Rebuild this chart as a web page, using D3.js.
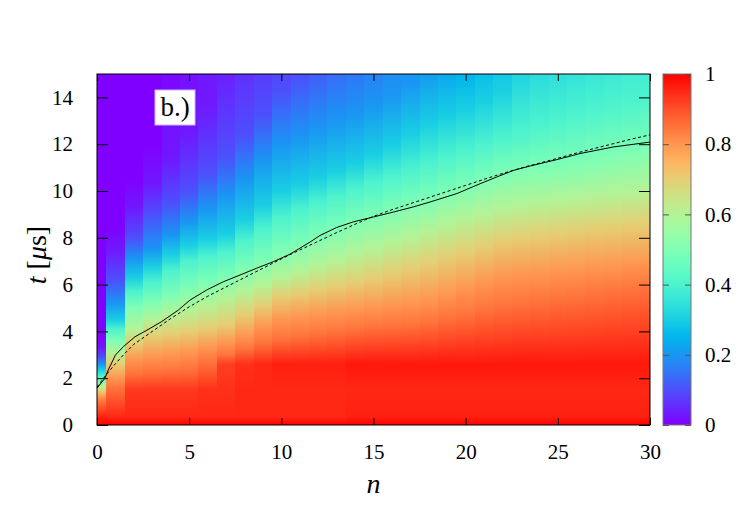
<!DOCTYPE html>
<html><head><meta charset="utf-8">
<script src="https://cdn.jsdelivr.net/npm/d3@7"></script>
<style>body{margin:0;background:#fff}</style>
</head><body>
<svg id="c" width="747" height="523"></svg>
<script>
// ---- data ----
const nValues = [0,1,2,3,4,5,6,7,8,9,10,11,12,13,14,15,16,17,18,19,20,21,22,23,24,25,26,27,28,29,30];
const xTicks = [0,5,10,15,20,25,30];
const yTicks = [0,2,4,6,8,10,12,14];
const cbTicks = [0,0.2,0.4,0.6,0.8,1];
const cbTickLabels = ["0","0.2","0.4","0.6","0.8","1"];

// value levels and, per column n, the time t [us] at which the value falls to that level (null: not within 0..15)
const levels = [0.85,0.8,0.7,0.6,0.5,0.4,0.3,0.2,0.1,0.03,0];
const crossT = [
  [1.0,1.2,1.45,1.65,1.85,2.1,2.35,2.6,2.9,3.3,3.8],
  [1.6,2.0,2.6,3.1,3.6,4.1,4.5,5.2,6.2,7.5,8.5],
  [2.2,2.8,3.5,4.1,5.0,5.7,6.3,7.1,8.0,9.3,10.5],
  [2.3,2.9,3.8,4.5,5.2,6.1,6.8,7.5,9.0,10.3,12.0],
  [2.35,3.0,3.9,4.7,5.5,6.6,7.3,8.1,9.5,11.4,null],
  [2.4,3.1,4.0,4.9,5.8,7.0,7.7,8.7,10.0,12.5,null],
  [2.7,3.3,4.15,5.15,6.05,7.2,7.95,9.25,10.75,13.7,null],
  [3.0,3.5,4.3,5.4,6.3,7.4,8.2,9.8,11.5,null,null],
  [3.25,3.8,4.7,5.7,6.7,7.9,8.8,10.5,12.4,null,null],
  [3.5,4.2,5.1,6.0,7.0,8.4,9.4,11.3,13.3,null,null],
  [3.7,4.5,5.5,6.3,7.4,8.9,10.0,12.0,14.3,null,null],
  [3.8,4.6,5.65,6.55,7.7,9.2,10.3,12.3,null,null,null],
  [3.9,4.7,5.8,6.8,8.05,9.5,10.6,12.65,null,null,null],
  [4.0,4.8,5.95,7.05,8.35,9.8,10.9,13.0,null,null,null],
  [4.1,4.9,6.1,7.3,8.7,10.1,11.2,13.3,null,null,null],
  [4.2,5.0,6.3,7.55,8.9,10.4,11.6,13.7,null,null,null],
  [4.25,5.1,6.5,7.8,9.15,10.65,12.0,14.1,null,null,null],
  [4.3,5.2,6.7,8.05,9.4,10.9,12.45,14.6,null,null,null],
  [4.4,5.3,6.9,8.3,9.6,11.2,12.9,null,null,null,null],
  [4.6,5.55,7.15,8.55,9.9,11.5,13.2,null,null,null,null],
  [4.75,5.8,7.4,8.8,10.15,11.75,13.5,null,null,null,null],
  [4.95,6.05,7.65,9.05,10.45,12.0,13.9,null,null,null,null],
  [5.1,6.3,7.9,9.3,10.7,12.3,14.4,null,null,null,null],
  [5.2,6.4,8.0,9.4,10.8,12.55,null,null,null,null,null],
  [5.3,6.45,8.1,9.5,10.9,12.8,null,null,null,null,null],
  [5.4,6.55,8.2,9.6,11.0,13.05,null,null,null,null,null],
  [5.5,6.6,8.3,9.7,11.1,13.3,null,null,null,null,null],
  [5.6,6.7,8.4,9.8,11.3,13.5,null,null,null,null,null],
  [5.7,6.75,8.45,9.9,11.45,13.7,null,null,null,null,null],
  [5.8,6.85,8.55,10.0,11.6,13.85,null,null,null,null,null],
  [5.9,6.9,8.6,10.1,11.8,14.0,null,null,null,null,null]
];
// value at the top of the plot (t = 15) per column
const topValue = [0,0,0,0,0.01,0.02,0.03,0.04,0.06,0.075,0.09,0.1,0.12,0.14,0.155,0.17,0.19,0.2,0.21,0.23,0.25,0.27,0.29,0.31,0.33,0.34,0.35,0.36,0.37,0.38,0.38];
// early-time (red plateau) values at these times, per column
const baseT = [0,0.35,1.5,2.6];
const baseV = [
  [1,0.96,0.92,0.9],[1,0.95,0.93,0.9],[1,0.95,0.93,0.92],[1,0.95,0.93,0.92],[1,0.95,0.93,0.92],
  [1,0.95,0.93,0.92],[1,0.95,0.94,0.92],[1,0.95,0.94,0.92],[1,0.95,0.95,0.94],[1,0.95,0.95,0.95],
  [1,0.95,0.95,0.96],[1,0.95,0.95,0.96],[1,0.95,0.95,0.96],[1,0.95,0.95,0.96],[1,0.96,0.95,0.97],
  [1,0.96,0.95,0.97],[1,0.96,0.95,0.97],[1,0.96,0.95,0.97],[1,0.96,0.95,0.97],[1,0.96,0.95,0.97],
  [1,0.96,0.95,0.97],[1,0.96,0.95,0.97],[1,0.96,0.95,0.97],[1,0.96,0.95,0.97],[1,0.96,0.95,0.97],
  [1,0.96,0.95,0.97],[1,0.96,0.95,0.97],[1,0.96,0.95,0.97],[1,0.96,0.95,0.97],[1,0.96,0.95,0.97],
  [1,0.96,0.95,0.97]
];
// solid curve (data) and dashed curve (fit)
const solidN = [0,0.43,0.61,1.0,1.43,2.06,2.88,3.51,4.41,5.05,5.95,6.85,7.76,8.66,9.57,10.47,11.56,12.1,13.0,13.9,15.0,16.08,17.16,18.07,19.52,20.78,21.69,22.59,23.5,24.94,26.2,28.0,29.9,30];
const solidT = [1.57,2.0,2.35,2.99,3.35,3.77,4.13,4.42,4.91,5.34,5.77,6.12,6.41,6.7,6.98,7.3,7.82,8.1,8.44,8.68,8.89,9.1,9.32,9.53,9.89,10.31,10.6,10.88,11.07,11.34,11.6,11.88,12.08,12.08];
const dashN = [0,0.5,1,1.5,2,3,4,5,6,7,8,9,10,11,12,13,14,15,16,17,18,19,20,21,22,23,24,25,26,27,28,29,30];
const dashT = [1.62,2.15,2.62,3.05,3.45,4.0,4.55,5.05,5.5,5.9,6.3,6.7,7.1,7.48,7.85,8.22,8.58,8.92,9.2,9.46,9.72,9.98,10.24,10.5,10.75,10.98,11.19,11.4,11.62,11.82,12.02,12.22,12.4];

// ---- drawing ----
const FONT = "'Liberation Serif', 'DejaVu Serif', 'Times New Roman', Times, 'Nimbus Roman', 'Nimbus Roman No9 L', FreeSerif, 'Noto Serif', Tinos, serif";
function rainbow(v){ // gnuplot rgbformulae 33,13,10
  const r=Math.min(1,Math.abs(2*v-0.5)), g=Math.max(0,Math.sin(Math.PI*v)), b=Math.max(0,Math.cos(Math.PI*v/2));
  return d3.rgb(r*255,g*255,b*255).formatHex();
}
const color = d3.scaleSequential(rainbow).domain([0,1]);
const x = d3.scaleLinear().domain([0,30]).range([97,650]);
const y = d3.scaleLinear().domain([0,15]).range([425,74]);
const cbY = d3.scaleLinear().domain([0,1]).range([425,74]);
const svg = d3.select("#c");
const defs = svg.append("defs");
defs.append("clipPath").attr("id","clip").append("rect")
  .attr("x",x(0)).attr("y",y(15)).attr("width",x(30)-x(0)).attr("height",y(0)-y(15));
const heat = svg.append("g").attr("clip-path","url(#clip)");
nValues.forEach((n,i)=>{
  const stops=[];
  baseT.forEach((t,k)=>{ if(t < crossT[i][0]-0.15) stops.push([t, baseV[i][k]]); });
  levels.forEach((L,k)=>{ const t=crossT[i][k]; if(t!=null && t<15) stops.push([t,L]); });
  stops.push([15, topValue[i]]);
  const g = defs.append("linearGradient").attr("id","col"+i).attr("gradientUnits","userSpaceOnUse")
    .attr("x1",0).attr("x2",0).attr("y1",y(0)).attr("y2",y(15));
  stops.forEach(([t,v])=>g.append("stop").attr("offset",(y(t)-y(0))/(y(15)-y(0))).attr("stop-color",color(v)));
  heat.append("rect").attr("x",x(n-0.5)).attr("width",x(n+0.5)-x(n-0.5)+0.4)
    .attr("y",y(15)).attr("height",y(0)-y(15)).attr("fill","url(#col"+i+")")
    .attr("shape-rendering","crispEdges");
});

// curves
const line = d3.line().x(d=>x(d[0])).y(d=>y(d[1]));
heat.append("path").datum(solidN.map((n,i)=>[n,solidT[i]])).attr("d",line)
  .attr("fill","none").attr("stroke","#000").attr("stroke-width",1);
heat.append("path").datum(dashN.map((n,i)=>[n,dashT[i]])).attr("d",line)
  .attr("fill","none").attr("stroke","#000").attr("stroke-width",1).attr("stroke-dasharray","3,2.5");

// frame
svg.append("rect").attr("x",x(0)).attr("y",y(15)).attr("width",x(30)-x(0)).attr("height",y(0)-y(15))
  .attr("fill","none").attr("stroke","#000").attr("stroke-width",1);

// axes
function styleAxis(g){
  g.attr("font-family",null);
  g.select(".domain").remove();
  g.selectAll("line").attr("stroke","#000");
  g.selectAll("text").attr("font-size",21).style("font-family",FONT).style("fill","#000");
}
svg.append("g").attr("transform",`translate(0,${y(0)})`)
  .call(d3.axisBottom(x).tickValues(xTicks).tickSize(-7).tickPadding(19)).call(styleAxis);
svg.append("g").attr("transform",`translate(0,${y(15)})`)
  .call(d3.axisTop(x).tickValues(xTicks).tickSize(-7).tickFormat("")).call(styleAxis);
svg.append("g").attr("transform",`translate(${x(0)},0)`)
  .call(d3.axisLeft(y).tickValues(yTicks).tickSize(-11).tickPadding(24)).call(styleAxis);
svg.append("g").attr("transform",`translate(${x(30)},0)`)
  .call(d3.axisRight(y).tickValues(yTicks).tickSize(-11).tickFormat("")).call(styleAxis);

// axis titles
svg.append("text").attr("x",(x(0)+x(30))/2).attr("y",493).attr("text-anchor","middle")
  .attr("font-size",28).style("font-family",FONT).attr("font-style","italic").text("n");
const yl = svg.append("text").attr("transform","translate(46,255) rotate(-90)").attr("text-anchor","middle")
  .attr("font-size",28).style("font-family",FONT);
yl.append("tspan").attr("font-style","italic").text("t");
yl.append("tspan").text(" [");
yl.append("tspan").attr("font-style","italic").text("μ");
yl.append("tspan").text("s]");

// panel label
svg.append("rect").attr("x",155).attr("y",90).attr("width",40).attr("height",35).attr("fill","#fff").attr("stroke","#c8b8ff").attr("stroke-width",1);
svg.append("text").attr("x",175).attr("y",116).attr("text-anchor","middle").attr("font-size",27).style("font-family",FONT).text("b.)");

// colorbar
const cbx0=663, cbx1=691;
const cg = defs.append("linearGradient").attr("id","cbar").attr("gradientUnits","userSpaceOnUse")
  .attr("x1",0).attr("x2",0).attr("y1",cbY(0)).attr("y2",cbY(1));
d3.range(0,1.0001,0.02).forEach(v=>cg.append("stop").attr("offset",(cbY(v)-cbY(0))/(cbY(1)-cbY(0))).attr("stop-color",color(v)));
svg.append("rect").attr("x",cbx0).attr("y",cbY(1)).attr("width",cbx1-cbx0).attr("height",cbY(0)-cbY(1))
  .attr("fill","url(#cbar)").attr("stroke","#777").attr("stroke-width",1);
svg.append("g").attr("transform",`translate(${cbx1},0)`)
  .call(d3.axisRight(cbY).tickValues(cbTicks).tickFormat((d,i)=>cbTickLabels[i]).tickSize(-6).tickPadding(14))
  .call(styleAxis).call(g=>g.selectAll("line").attr("stroke","#555"));
svg.append("g").attr("transform",`translate(${cbx0},0)`)
  .call(d3.axisLeft(cbY).tickValues(cbTicks).tickSize(-6).tickFormat(""))
  .call(styleAxis).call(g=>g.selectAll("line").attr("stroke","#555"));
</script>
</body></html>
